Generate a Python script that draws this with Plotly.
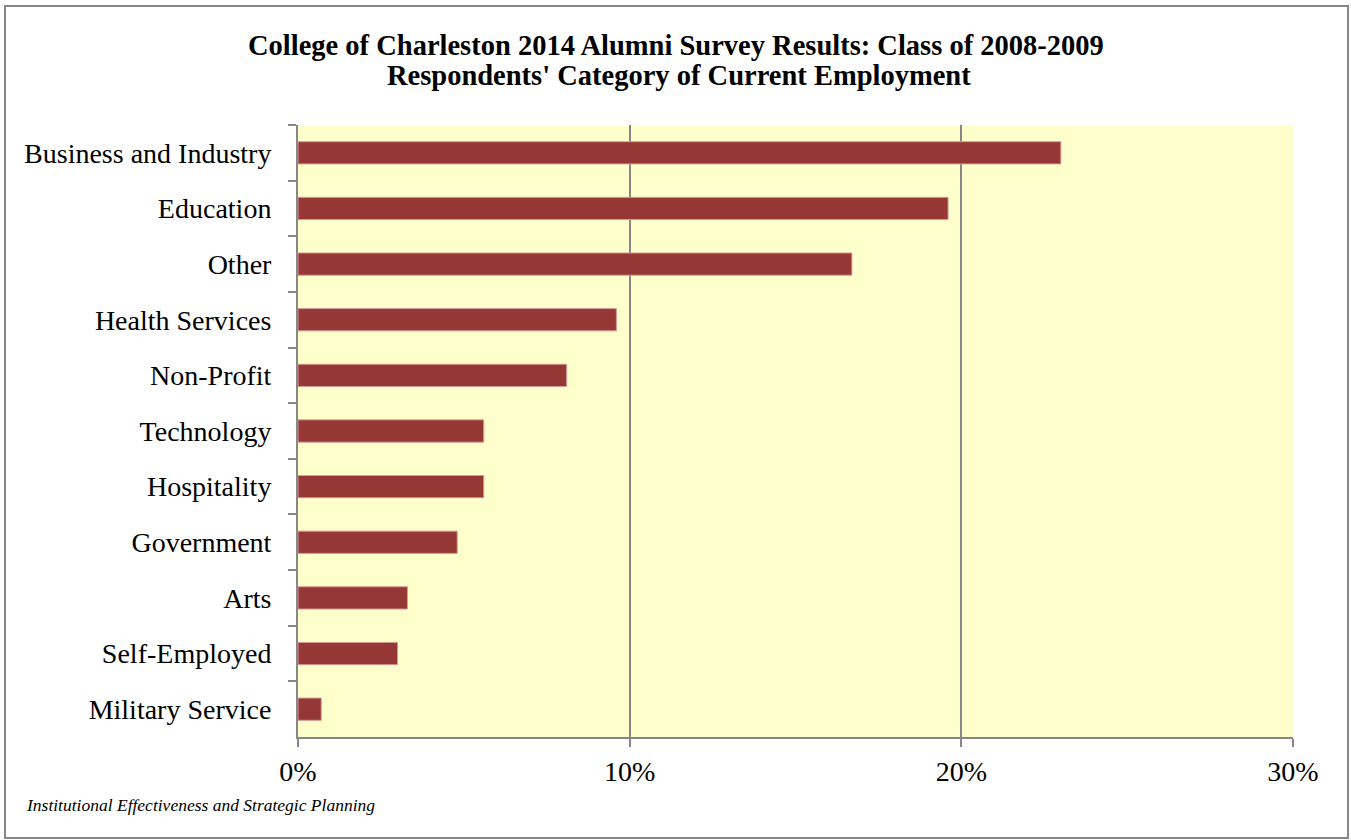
import plotly.graph_objects as go

categories = ["Business and Industry", "Education", "Other", "Health Services", "Non-Profit",
              "Technology", "Hospitality", "Government", "Arts", "Self-Employed", "Military Service"]
values = [23.0, 19.6, 16.7, 9.6, 8.1, 5.6, 5.6, 4.8, 3.3, 3.0, 0.7]
x_ticks = [0, 10, 20, 30]
x_tick_labels = ["0%", "10%", "20%", "30%"]

title_lines = ["College of Charleston 2014 Alumni Survey Results: Class of 2008-2009",
               "Respondents' Category of Current Employment"]
footer = "Institutional Effectiveness and Strategic Planning"

W, H = 1351, 840
L, R, T, B = 298, 58, 125, 103
pw, ph = W - L - R, H - T - B

def px(xp):
    return (xp - L) / pw

def py(yp):
    return 1 - (yp - T) / ph

serif = "Liberation Serif"
gray = "#878787"

fig = go.Figure(go.Bar(
    y=categories, x=values, orientation="h",
    marker=dict(color="#953735", line=dict(color="#D69A98", width=1)),
    hoverinfo="x+y",
))

fig.update_layout(
    width=W, height=H,
    margin=dict(l=L, r=R, t=T, b=B, autoexpand=False),
    paper_bgcolor="white", plot_bgcolor="#FFFFCC",
    bargap=0.6, showlegend=False,
    font=dict(family=serif, color="black"),
    xaxis=dict(range=[0, 30], tickvals=x_ticks, ticktext=x_tick_labels,
               showgrid=True, gridcolor=gray, gridwidth=1.5,
               showline=True, linecolor=gray, linewidth=2,
               ticks="outside", ticklen=8, tickcolor=gray, tickwidth=2,
               tickfont=dict(family=serif, size=28), zeroline=False, fixedrange=True),
    yaxis=dict(type="category", autorange="reversed",
               showline=True, linecolor=gray, linewidth=2,
               ticks="outside", tickson="boundaries", ticklen=8, tickcolor=gray, tickwidth=2,
               tickfont=dict(family=serif, size=28), ticklabelstandoff=19,
               showgrid=False, fixedrange=True),
    annotations=[
        dict(text="<b>" + title_lines[0] + "</b>",
             xref="paper", yref="paper", x=px(675.5), y=py(45), xanchor="center", yanchor="middle",
             showarrow=False, font=dict(family=serif, size=28.5, color="black")),
        dict(text="<b>" + title_lines[1] + "</b>",
             xref="paper", yref="paper", x=px(679), y=py(75), xanchor="center", yanchor="middle",
             showarrow=False, font=dict(family=serif, size=28.5, color="black")),
        dict(text="<i>" + footer + "</i>", xref="paper", yref="paper",
             x=px(24), y=py(805), xanchor="left", yanchor="middle", showarrow=False,
             font=dict(family=serif, size=17.5, color="black")),
    ],
    shapes=[
        dict(type="rect", xref="paper", yref="paper",
             x0=px(5), x1=px(1348), y0=py(6), y1=py(838),
             line=dict(color=gray, width=2), fillcolor="rgba(0,0,0,0)", layer="below"),
    ],
)

fig.write_html("out.html", config={"displayModeBar": False},
               post_script="document.body.style.margin='0';")
